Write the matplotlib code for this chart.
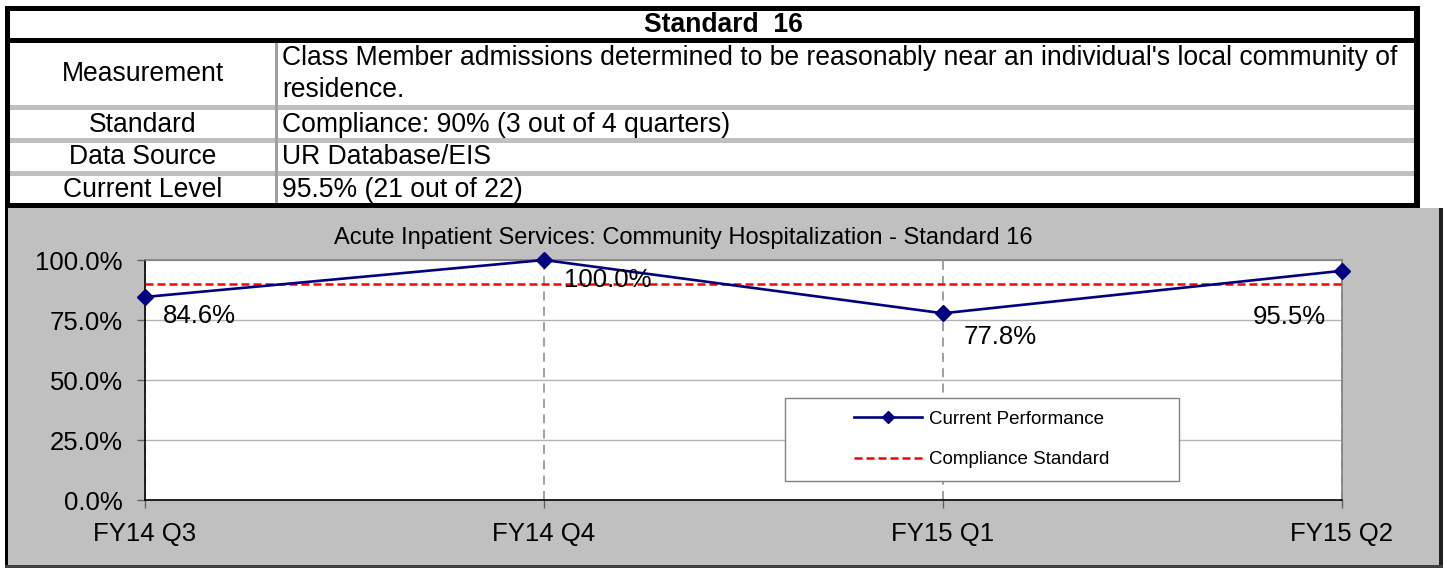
import matplotlib
matplotlib.use("Agg")
import matplotlib.pyplot as plt
from matplotlib.patches import Rectangle
from matplotlib.ticker import PercentFormatter

# --- data -------------------------------------------------------------
quarters = ["FY14 Q3", "FY14 Q4", "FY15 Q1", "FY15 Q2"]
performance = [0.846, 1.000, 0.778, 0.955]
compliance_standard = [0.90, 0.90, 0.90, 0.90]
y_ticks = [0.0, 0.25, 0.50, 0.75, 1.00]

table_title = "Standard  16"
row_labels = ["Measurement", "Standard", "Data Source", "Current Level"]
row_values = [
    "Class Member admissions determined to be reasonably near an individual's local community of\nresidence.",
    "Compliance: 90% (3 out of 4 quarters)",
    "UR Database/EIS",
    "95.5% (21 out of 22)",
]
chart_title = "Acute Inpatient Services: Community Hospitalization - Standard 16"

W, H = 1447, 568
NAVY = "#000080"
RED = "#FF0000"
PANEL = "#C0C0C0"
TABLE_FS = 19.1

plt.rcParams["font.family"] = ["Liberation Sans", "DejaVu Sans"]

fig = plt.figure(figsize=(W / 100, H / 100), dpi=100)


def fx(x):
    return x / W


def fy(y):
    return 1 - y / H


def block(x0, y0, x1, y1, color, z=0.5):
    """Filled rectangle given in pixel coords (origin top-left)."""
    fig.add_artist(Rectangle((fx(x0), fy(y1)), (x1 - x0) / W, (y1 - y0) / H,
                             transform=fig.transFigure, facecolor=color,
                             edgecolor="none", zorder=z))


# --- table on top -----------------------------------------------------
block(5, 6, 1420, 11, "black")        # top
block(5, 38, 1420, 43, "black")       # under title row
block(5, 203, 1420, 208, "black")     # bottom
block(5, 6, 10, 208, "black")         # left
block(1414, 6, 1420, 208, "black")    # right
for y in (105, 138, 171):
    block(10, y, 1414, y + 5, PANEL)
block(275, 43, 278, 203, "#A0A0A0")

fig.text(fx(723), fy(25), table_title, ha="center", va="center",
         fontsize=TABLE_FS, fontweight="bold")
label_y = [74, 125, 157, 190]
for lab, val, y in zip(row_labels, row_values, label_y):
    fig.text(fx(143), fy(y), lab, ha="center", va="center", fontsize=TABLE_FS)
    if "\n" in val:
        first, second = val.split("\n")
        fig.text(fx(282), fy(58), first, ha="left", va="center", fontsize=TABLE_FS)
        fig.text(fx(282), fy(90), second, ha="left", va="center", fontsize=TABLE_FS)
    else:
        fig.text(fx(282), fy(y), val, ha="left", va="center", fontsize=TABLE_FS)

# --- chart panel ------------------------------------------------------
block(5, 208, 1443, 568, PANEL, z=-1)
block(5, 208, 8, 568, "black")
block(1439, 208, 1443, 568, "#202020")
block(5, 565, 1443, 568, "#404040")

fig.text(fx(683), fy(238), chart_title, ha="center", va="center", fontsize=17)

ax = fig.add_axes([fx(145), fy(500), (1342 - 145) / W, (500 - 260) / H])
ax.set_facecolor("white")
x = list(range(len(quarters)))

ax.plot(x, compliance_standard, color=RED, lw=1.8, linestyle=(0, (3.2, 1.6)),
        label="Compliance Standard", zorder=3)
ax.plot(x, performance, color=NAVY, lw=1.9, marker="D", markersize=8.5,
        label="Current Performance", zorder=4, clip_on=False)

# data labels, offsets in pixels from each point
offsets = [(18, -19, "left"), (20, -20, "left"), (21, -24, "left"), (-16, -46, "right")]
for xi, v, (dx, dy, ha) in zip(x, performance, offsets):
    ax.annotate(f"{v:.1%}", (xi, v), xytext=(dx, dy), textcoords="offset pixels",
                ha=ha, va="center", fontsize=18.5, zorder=6)

ax.set_xlim(0, 3)
ax.set_ylim(0, 1)
ax.set_xticks(x)
ax.set_xticklabels(quarters)
ax.set_yticks(y_ticks)
ax.yaxis.set_major_formatter(PercentFormatter(xmax=1, decimals=1))
ax.tick_params(axis="both", direction="out", length=6, width=1, color="#606060",
               labelsize=18.5, pad=10)

ax.set_axisbelow(True)
ax.yaxis.grid(True, color="#B4B4B4", lw=1)
ax.xaxis.grid(True, color="#999999", lw=1.3, linestyle=(0, (5, 3.5)))

for side in ("left", "bottom"):
    ax.spines[side].set_color("black")
    ax.spines[side].set_linewidth(1.2)
for side in ("top", "right"):
    ax.spines[side].set_color("#808080")
    ax.spines[side].set_linewidth(1.2)

# legend: white box with a frameless legend centred inside it
block(785, 398, 1179, 481, "white", z=2)
fig.add_artist(Rectangle((fx(785), fy(481)), (1179 - 785) / W, (481 - 398) / H,
                         transform=fig.transFigure, facecolor="none",
                         edgecolor="#808080", lw=1, zorder=2.5))
handles, labels = ax.get_legend_handles_labels()
leg = fig.legend(handles[::-1], labels[::-1], loc="center",
                 bbox_to_anchor=(fx(982), fy(439.5)), frameon=False,
                 fontsize=13.5, handlelength=3.6, handletextpad=0.4,
                 labelspacing=1.25, markerscale=0.75)
leg.set_zorder(3)

fig.savefig("out.png", dpi=100)
